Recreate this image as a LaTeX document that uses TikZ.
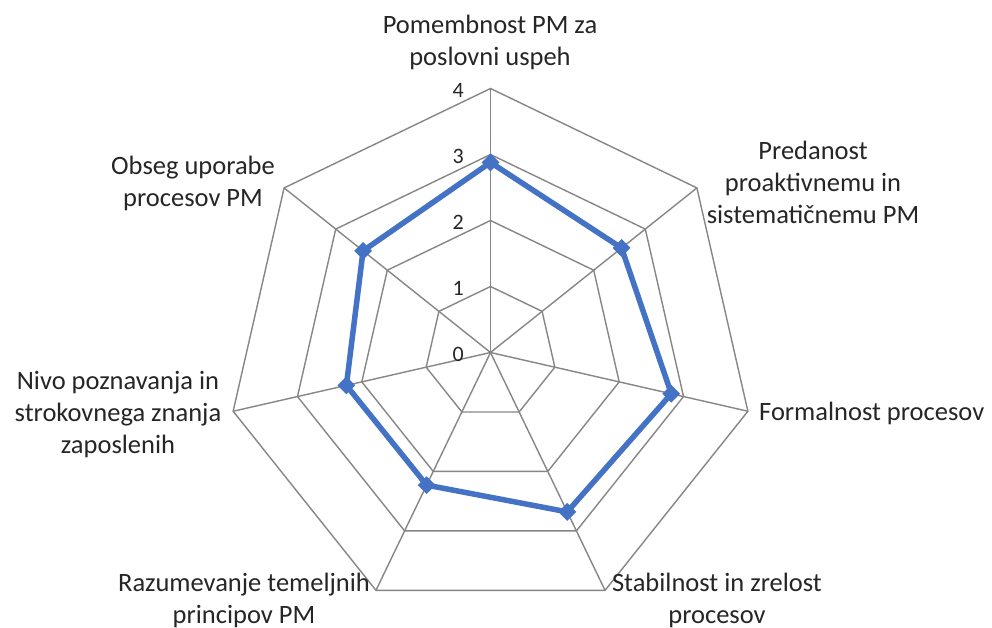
\documentclass[tikz,border=0pt]{standalone}
\usepackage{fontspec}
\setmainfont{Carlito}
\usetikzlibrary{shapes.geometric,calc}
\definecolor{gridgray}{RGB}{134,134,134}
\definecolor{serblue}{RGB}{68,114,196}
\begin{document}
\begin{tikzpicture}[x=1pt,y=-1pt,
  gridline/.style={draw=gridgray,line width=1.4pt},
  serline/.style={draw=serblue,line width=5.5pt,line join=round},
  marker/.style={diamond,fill=serblue,inner sep=0pt,minimum size=18pt},
  ticklab/.style={anchor=east,inner sep=0pt,font=\fontsize{22}{27}\selectfont,text=black!85},
  catlab/.style={align=center,inner sep=0pt,font=\fontsize{26.5}{32}\selectfont,text=black!85}]
\useasboundingbox (0,0) rectangle (992,628);
\fill[white] (0,0) rectangle (992,628);
\coordinate (O) at (490.5,352.5);
% grid
\foreach \k in {1,2,3,4}{
  \draw[gridline] ($(O)+(-90:66*\k)$)
    \foreach \i in {1,...,6}{ -- ($(O)+(-90+\i*360/7:66*\k)$) } -- cycle;
}
\foreach \i in {0,...,6}{
  \coordinate (v\i) at ($(O)+(-90+\i*360/7:264)$);
  \draw[gridline] (O) -- (v\i);
}
% ticks
\foreach \k in {0,1,2,3,4}{
  \node[ticklab] (t\k) at (464,354-66*\k) {\k};
}
% data
\coordinate (d0) at ($(O)+(-90:66*2.88)$);
\coordinate (d1) at ($(O)+(-90+1*360/7:66*2.54)$);
\coordinate (d2) at ($(O)+(-90+2*360/7:66*2.81)$);
\coordinate (d3) at ($(O)+(-90+3*360/7:66*2.68)$);
\coordinate (d4) at ($(O)+(-90+4*360/7:66*2.23)$);
\coordinate (d5) at ($(O)+(-90+5*360/7:66*2.24)$);
\coordinate (d6) at ($(O)+(-90+6*360/7:66*2.47)$);
\draw[serline] (d0) -- (d1) -- (d2) -- (d3) -- (d4) -- (d5) -- (d6) -- cycle;
\foreach \i in {0,...,6}{ \node[marker] (m\i) at (d\i) {}; }
% labels
\node[catlab] (lab0) at (490,42) {Pomembnost PM za\\poslovni uspeh};
\node[catlab] (lab1) at (813,182) {Predanost\\proaktivnemu in\\sistematičnemu PM};
\node[catlab,anchor=west] (lab2) at (759,413) {Formalnost procesov};
\node[catlab] (lab3) at (717,600) {Stabilnost in zrelost\\procesov};
\node[catlab] (lab4) at (244,600) {Razumevanje temeljnih\\principov PM};
\node[catlab] (lab5) at (118,415) {Nivo poznavanja in\\strokovnega znanja\\zaposlenih};
\node[catlab] (lab6) at (193,183) {Obseg uporabe\\procesov PM};
\end{tikzpicture}
\end{document}
